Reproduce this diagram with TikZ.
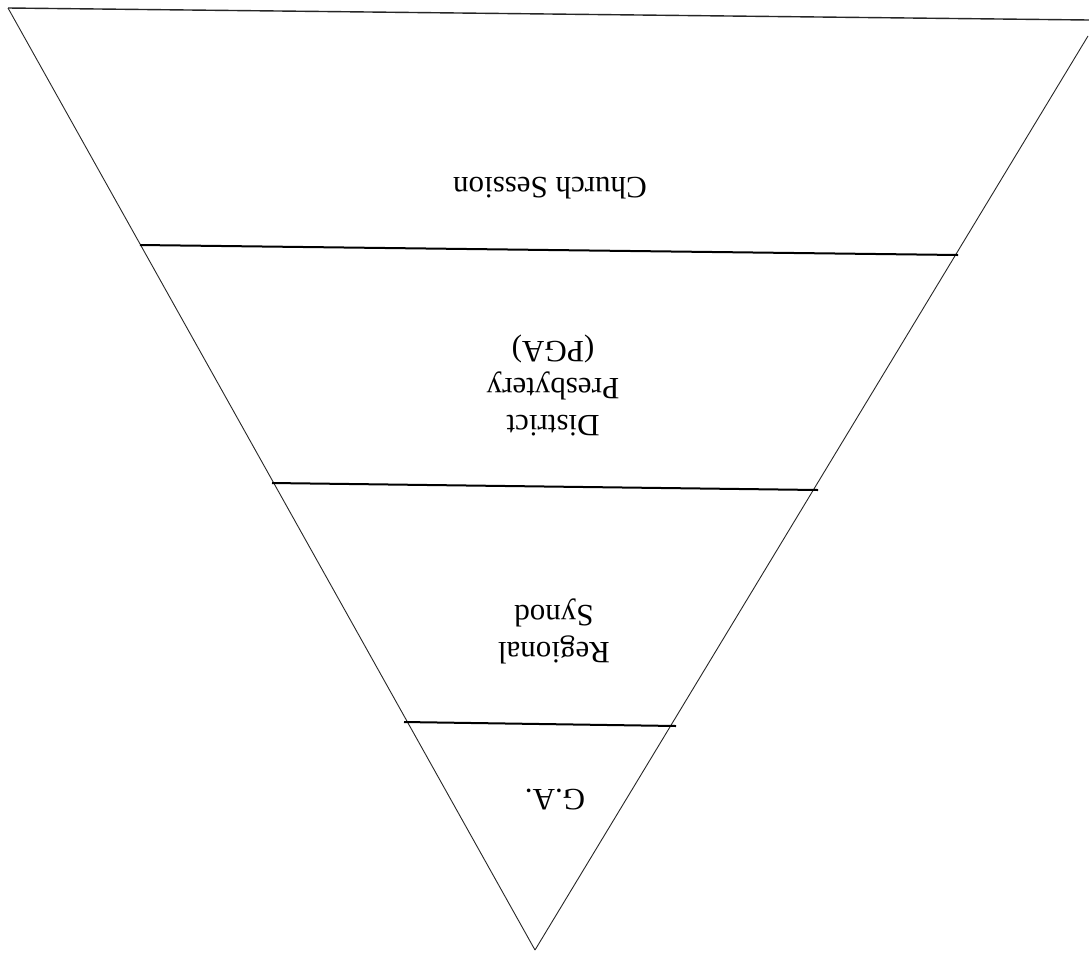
\documentclass[tikz,border=0pt]{standalone}
\usepackage{fontspec}
\setmainfont{Liberation Serif}
\begin{document}
\begin{tikzpicture}[x=1pt,y=-1pt,
  side/.style={draw=black!85,line width=0.9pt},
  divider/.style={draw=black,line width=2pt},
  lbl/.style={rotate=180,align=center,font=\fontsize{31}{37}\selectfont,inner sep=0pt}]
\useasboundingbox[fill=white] (0,0) rectangle (1089,959);
% corners
\coordinate (tl) at (8,8);
\coordinate (tr) at (1089,20);
\coordinate (rt) at (1088,36);
\coordinate (apex) at (535,950);
% dividers
\coordinate (d1l) at (140,245);
\coordinate (d1r) at (958,255);
\coordinate (d2l) at (272,483);
\coordinate (d2r) at (818,490);
\coordinate (d3l) at (404,722);
\coordinate (d3r) at (676,726);
% outline
\draw[side,line width=1.4pt] (tl) -- (tr);
\draw[side] (tl) -- (apex);
\draw[side] (rt) -- (apex);
\draw[divider] (d1l) -- (d1r);
\draw[divider] (d2l) -- (d2r);
\draw[divider] (d3l) -- (d3r);
% labels
\node[lbl] (church) at (550,188) {Church Session};
\node[lbl] (district) at (553,385) {District\\Presbytery\\(PGA)};
\node[lbl] (regional) at (554,631) {Regional\\Synod};
\node[lbl] (ga) at (555,800) {G.A.};
\end{tikzpicture}
\end{document}
